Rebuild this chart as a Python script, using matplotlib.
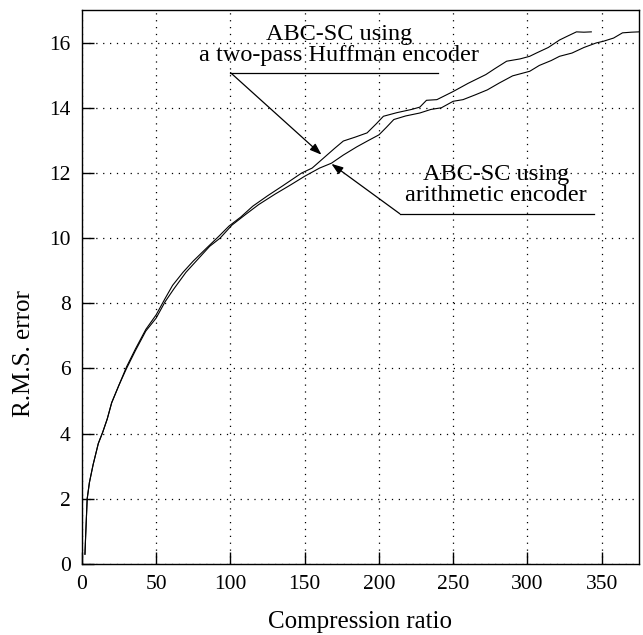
import matplotlib
matplotlib.use("Agg")
import matplotlib.pyplot as plt

plt.rcParams['font.family'] = ['Liberation Serif', 'DejaVu Serif']

huff_x = [2, 2.5, 3.5, 5, 7.5, 11, 14, 17, 20, 25, 30, 36, 43, 50, 56, 61, 68, 75, 84, 92, 99,
          107, 115, 125, 135, 148, 155, 160, 165, 170, 176, 184, 192, 198, 203, 212, 222, 227.5,
          232, 239, 250, 260, 272, 278, 286, 295, 301.5, 306, 314, 321.6, 327, 333, 338, 343]
huff_y = [0.3, 0.9, 2.0, 2.5, 3.05, 3.7, 4.05, 4.45, 4.95, 5.5, 6.05, 6.6, 7.2, 7.65, 8.15, 8.55,
          8.95, 9.3, 9.7, 10.05, 10.37, 10.65, 10.98, 11.3, 11.6, 12.0, 12.15, 12.35, 12.55,
          12.75, 12.98, 13.1, 13.23, 13.5, 13.74, 13.85, 13.95, 14.02, 14.23, 14.25, 14.5,
          14.75, 15.02, 15.2, 15.43, 15.5, 15.58, 15.68, 15.85, 16.08, 16.2, 16.33, 16.32, 16.33]

arith_x = [2, 2.5, 3.5, 5, 7.5, 11, 14, 17, 20, 25, 30, 36, 43, 50, 56, 62, 70, 78, 86, 93, 101,
           110, 119, 130, 140, 150, 160, 168, 176, 185, 193, 200, 205, 210, 218, 227.5, 235, 242,
           250, 256.6, 265, 273, 281, 290, 301.5, 308, 316, 321.6, 330, 338, 346.3, 351, 358,
           364, 370, 375]
arith_y = [0.3, 0.9, 2.0, 2.5, 3.05, 3.7, 4.05, 4.45, 4.95, 5.5, 6.0, 6.55, 7.15, 7.55, 8.05,
           8.45, 8.95, 9.35, 9.75, 10.0, 10.4, 10.72, 11.03, 11.35, 11.62, 11.9, 12.15, 12.3,
           12.55, 12.8, 13.0, 13.17, 13.4, 13.64, 13.75, 13.84, 13.95, 14.0, 14.2, 14.25, 14.4,
           14.55, 14.76, 14.98, 15.12, 15.3, 15.45, 15.58, 15.68, 15.85, 15.99, 16.04, 16.14,
           16.3, 16.32, 16.33]

x_ticks = [0, 50, 100, 150, 200, 250, 300, 350]
y_ticks = [0, 2, 4, 6, 8, 10, 12, 14, 16]

fig = plt.figure(figsize=(6.43, 6.35), dpi=100)
ax = fig.add_axes([0.1275, 0.1118, 0.866, 0.8724])

ax.plot(huff_x, huff_y, color='black', lw=0.8)
ax.plot(arith_x, arith_y, color='black', lw=0.8)

ax.set_xlim(0, 375)
ax.set_ylim(0, 17)
ax.set_xticks(x_ticks)
ax.set_yticks(y_ticks)
ax.tick_params(direction='in', length=8.5, width=1.0, labelsize=15.5, pad=8)
ax.grid(True, color='black', linestyle=(0, (1, 4.5)), linewidth=0.9)
for s in ax.spines.values():
    s.set_linewidth(1.0)

ax.set_xlabel('Compression ratio', fontsize=18, labelpad=12)
ax.set_ylabel('R.M.S. error', fontsize=18, labelpad=10)
ax.yaxis.set_label_coords(-0.085, 0.38)

# Huffman annotation
ax.text(173, 15.94, 'ABC-SC using\na two-pass Huffman encoder', ha='center', va='center',
        fontsize=17.5, linespacing=1.0, zorder=5)
ax.plot([100, 240], [15.08, 15.08], color='black', lw=0.9)
ax.annotate('', xy=(161.3, 12.56), xytext=(100, 15.08),
            arrowprops=dict(arrowstyle='-|>,head_length=0.7,head_width=0.25', color='black',
                            lw=0.9, shrinkA=0, shrinkB=0))

# Arithmetic annotation
ax.text(279, 11.64, 'ABC-SC using\narithmetic encoder', ha='center', va='center',
        fontsize=17.5, linespacing=1.0, zorder=5)
ax.plot([214, 345], [10.75, 10.75], color='black', lw=0.9)
ax.annotate('', xy=(168, 12.28), xytext=(214, 10.75),
            arrowprops=dict(arrowstyle='-|>,head_length=0.7,head_width=0.25', color='black',
                            lw=0.9, shrinkA=0, shrinkB=0))

fig.savefig('out.png', dpi=100)
